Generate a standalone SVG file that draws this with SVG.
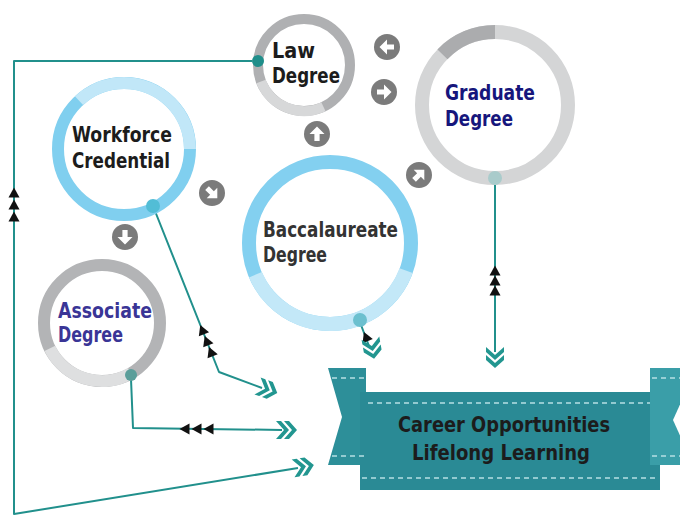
<svg xmlns="http://www.w3.org/2000/svg" xmlns:xlink="http://www.w3.org/1999/xlink" width="680" height="517" viewBox="0 0 680 517">
  <style>
    .lbl { font-family: "DejaVu Sans Condensed", "DejaVu Sans", "Liberation Sans", sans-serif; font-weight: bold; font-size: 22px; }
    .dark { fill: #1c1c1c; }
    .grey { fill: #333333; }
    .navy { fill: #16167c; }
    .indigo { fill: #3a3596; }
    .wire { fill: none; stroke: #21908c; stroke-width: 2; stroke-linejoin: round; }
    .tip { fill: #111111; }
    .chev { fill: #229690; }
    .dash { stroke: #b6dfe3; stroke-width: 1.5; stroke-dasharray: 5 4; fill: none; }
  </style>
  <defs>
    <!-- small black arrowhead, pointing +x -->
    <path id="tri" d="M-4.5,-5.5 L5.5,0 L-4.5,5.5 Z"/>
    <!-- double chevron, pointing +x -->
    <path id="chevron" d="M-9,-9 L-4,-9 L4,0 L-4,9 L-9,9 L-1,0 Z M-1,-9 L4,-9 L12,0 L4,9 L-1,9 L7,0 Z"/>
    <!-- round grey direction badge, arrow pointing +x -->
    <g id="badge">
      <circle r="13" fill="#7b7b7b"/>
      <path d="M-7,-2.6 L0,-2.6 L0,-7.5 L7.5,0 L0,7.5 L0,2.6 L-7,2.6 Z" fill="#ffffff"/>
    </g>
  </defs>

  <rect width="680" height="517" fill="#ffffff"/>

  <!-- connectors -->
  <g id="connectors">
    <!-- Law Degree loop back down the left side -->
    <polyline class="wire" points="252,61 14,61 14,514 298,468"/>
    <use href="#tri" class="tip" transform="translate(14,193) rotate(-90)"/>
    <use href="#tri" class="tip" transform="translate(14,205) rotate(-90)"/>
    <use href="#tri" class="tip" transform="translate(14,217) rotate(-90)"/>
    <use href="#chevron" class="chev" transform="translate(302,467) rotate(-9)"/>

    <!-- Workforce Credential -->
    <polyline class="wire" points="153,206 219,372 262,388"/>
    <use href="#tri" class="tip" transform="translate(202.3,330) rotate(-111.7)"/>
    <use href="#tri" class="tip" transform="translate(206.7,341) rotate(-111.7)"/>
    <use href="#tri" class="tip" transform="translate(211,352) rotate(-111.7)"/>
    <use href="#chevron" class="chev" transform="translate(266,389) rotate(20)"/>

    <!-- Associate Degree -->
    <polyline class="wire" points="131,379 133,428 282,430"/>
    <use href="#tri" class="tip" transform="translate(185,429) rotate(180)"/>
    <use href="#tri" class="tip" transform="translate(197,429) rotate(180)"/>
    <use href="#tri" class="tip" transform="translate(209,429) rotate(180)"/>
    <use href="#chevron" class="chev" transform="translate(285,430)"/>

    <!-- Graduate Degree -->
    <line class="wire" x1="495" y1="184" x2="495" y2="352"/>
    <use href="#tri" class="tip" transform="translate(495,271) rotate(-90)"/>
    <use href="#tri" class="tip" transform="translate(495,281) rotate(-90)"/>
    <use href="#tri" class="tip" transform="translate(495,291) rotate(-90)"/>
    <use href="#chevron" class="chev" transform="translate(495,356) rotate(90)"/>

    <!-- Baccalaureate Degree -->
    <line class="wire" x1="361" y1="325" x2="369" y2="346"/>
    <use href="#tri" class="tip" transform="translate(366,337) rotate(-112)"/>
    <use href="#chevron" class="chev" transform="translate(372,347) rotate(80)"/>

    <!-- direction badges between the degrees -->
    <use href="#badge" transform="translate(387,47) rotate(180)"/>
    <use href="#badge" transform="translate(384,92)"/>
    <use href="#badge" transform="translate(317,134) rotate(-90)"/>
    <use href="#badge" transform="translate(212,193) rotate(45)"/>
    <use href="#badge" transform="translate(419,175) rotate(-45)"/>
    <use href="#badge" transform="translate(125,237) rotate(90)"/>
  </g>

  <!-- Law Degree -->
  <g id="law">
    <circle cx="304" cy="65" r="46" fill="#ffffff" stroke="#afb0b2" stroke-width="10"/>
    <path d="M323.44,106.69 A46,46 0 0 1 261.05,81.49" fill="none" stroke="#d7d8d9" stroke-width="10"/>
    <circle cx="258" cy="61" r="6" fill="#1f8e8a"/>
    <text class="lbl dark" x="272" y="58" textLength="43" lengthAdjust="spacingAndGlyphs">Law</text>
    <text class="lbl dark" x="272" y="83" textLength="68" lengthAdjust="spacingAndGlyphs">Degree</text>
  </g>

  <!-- Graduate Degree -->
  <g id="graduate">
    <circle cx="495" cy="105" r="73" fill="#ffffff" stroke="#d4d5d6" stroke-width="14"/>
    <path d="M442.49,54.29 A73,73 0 0 1 495,32" fill="none" stroke="#abacae" stroke-width="14"/>
    <circle cx="495" cy="178" r="7" fill="#a9cbcb"/>
    <text class="lbl navy" x="445" y="100" textLength="90" lengthAdjust="spacingAndGlyphs">Graduate</text>
    <text class="lbl navy" x="445" y="126" textLength="68" lengthAdjust="spacingAndGlyphs">Degree</text>
  </g>

  <!-- Workforce Credential -->
  <g id="workforce">
    <circle cx="124" cy="149" r="66" fill="#ffffff" stroke="#80cfef" stroke-width="12"/>
    <path d="M78.99,100.73 A66,66 0 0 1 190,149" fill="none" stroke="#c1e7f8" stroke-width="12"/>
    <circle cx="153" cy="206" r="7" fill="#52bdd6"/>
    <text class="lbl dark" x="72" y="142" textLength="100" lengthAdjust="spacingAndGlyphs">Workforce</text>
    <text class="lbl dark" x="72" y="168" textLength="98" lengthAdjust="spacingAndGlyphs">Credential</text>
  </g>

  <!-- Baccalaureate Degree -->
  <g id="baccalaureate">
    <circle cx="330" cy="243" r="81" fill="#ffffff" stroke="#83d0f0" stroke-width="14"/>
    <path d="M406.11,270.70 A81,81 0 0 1 255.44,274.65" fill="none" stroke="#c3e8f8" stroke-width="14"/>
    <circle cx="360" cy="320" r="7" fill="#6cc0cf"/>
    <text class="lbl grey" x="263" y="237" textLength="135" lengthAdjust="spacingAndGlyphs">Baccalaureate</text>
    <text class="lbl grey" x="263" y="262" textLength="64" lengthAdjust="spacingAndGlyphs">Degree</text>
  </g>

  <!-- Associate Degree -->
  <g id="associate">
    <circle cx="102" cy="323" r="58" fill="#ffffff" stroke="#b3b4b6" stroke-width="12"/>
    <path d="M131,373.23 A58,58 0 0 1 49.87,348.43" fill="none" stroke="#dedfe0" stroke-width="12"/>
    <circle cx="131" cy="375" r="6" fill="#5b9e9a"/>
    <text class="lbl indigo" x="58" y="318" textLength="94" lengthAdjust="spacingAndGlyphs">Associate</text>
    <text class="lbl indigo" x="58" y="342" textLength="65" lengthAdjust="spacingAndGlyphs">Degree</text>
  </g>

  <!-- Career Opportunities / Lifelong Learning ribbon -->
  <g id="career">
    <polygon points="328,368 366,368 366,465 328,465 342,417" fill="#2d8f99"/>
    <rect x="360" y="392" width="300" height="98" fill="#2a8a95"/>
    <polygon points="650,368 682,368 682,465 650,465" fill="#3a9ea8"/>
    <polygon points="682,400 673,420 682,440" fill="#ffffff"/>
    <line class="dash" x1="332" y1="378" x2="366" y2="378"/>
    <line class="dash" x1="332" y1="456" x2="366" y2="456"/>
    <line class="dash" x1="368" y1="403" x2="650" y2="403"/>
    <line class="dash" x1="362" y1="478" x2="658" y2="478"/>
    <line class="dash" x1="652" y1="378" x2="680" y2="378"/>
    <line class="dash" x1="652" y1="456" x2="680" y2="456"/>
    <text class="lbl dark" x="398" y="432" font-size="23" textLength="212" lengthAdjust="spacingAndGlyphs">Career Opportunities</text>
    <text class="lbl dark" x="412" y="460" font-size="23" textLength="178" lengthAdjust="spacingAndGlyphs">Lifelong Learning</text>
  </g>
</svg>
